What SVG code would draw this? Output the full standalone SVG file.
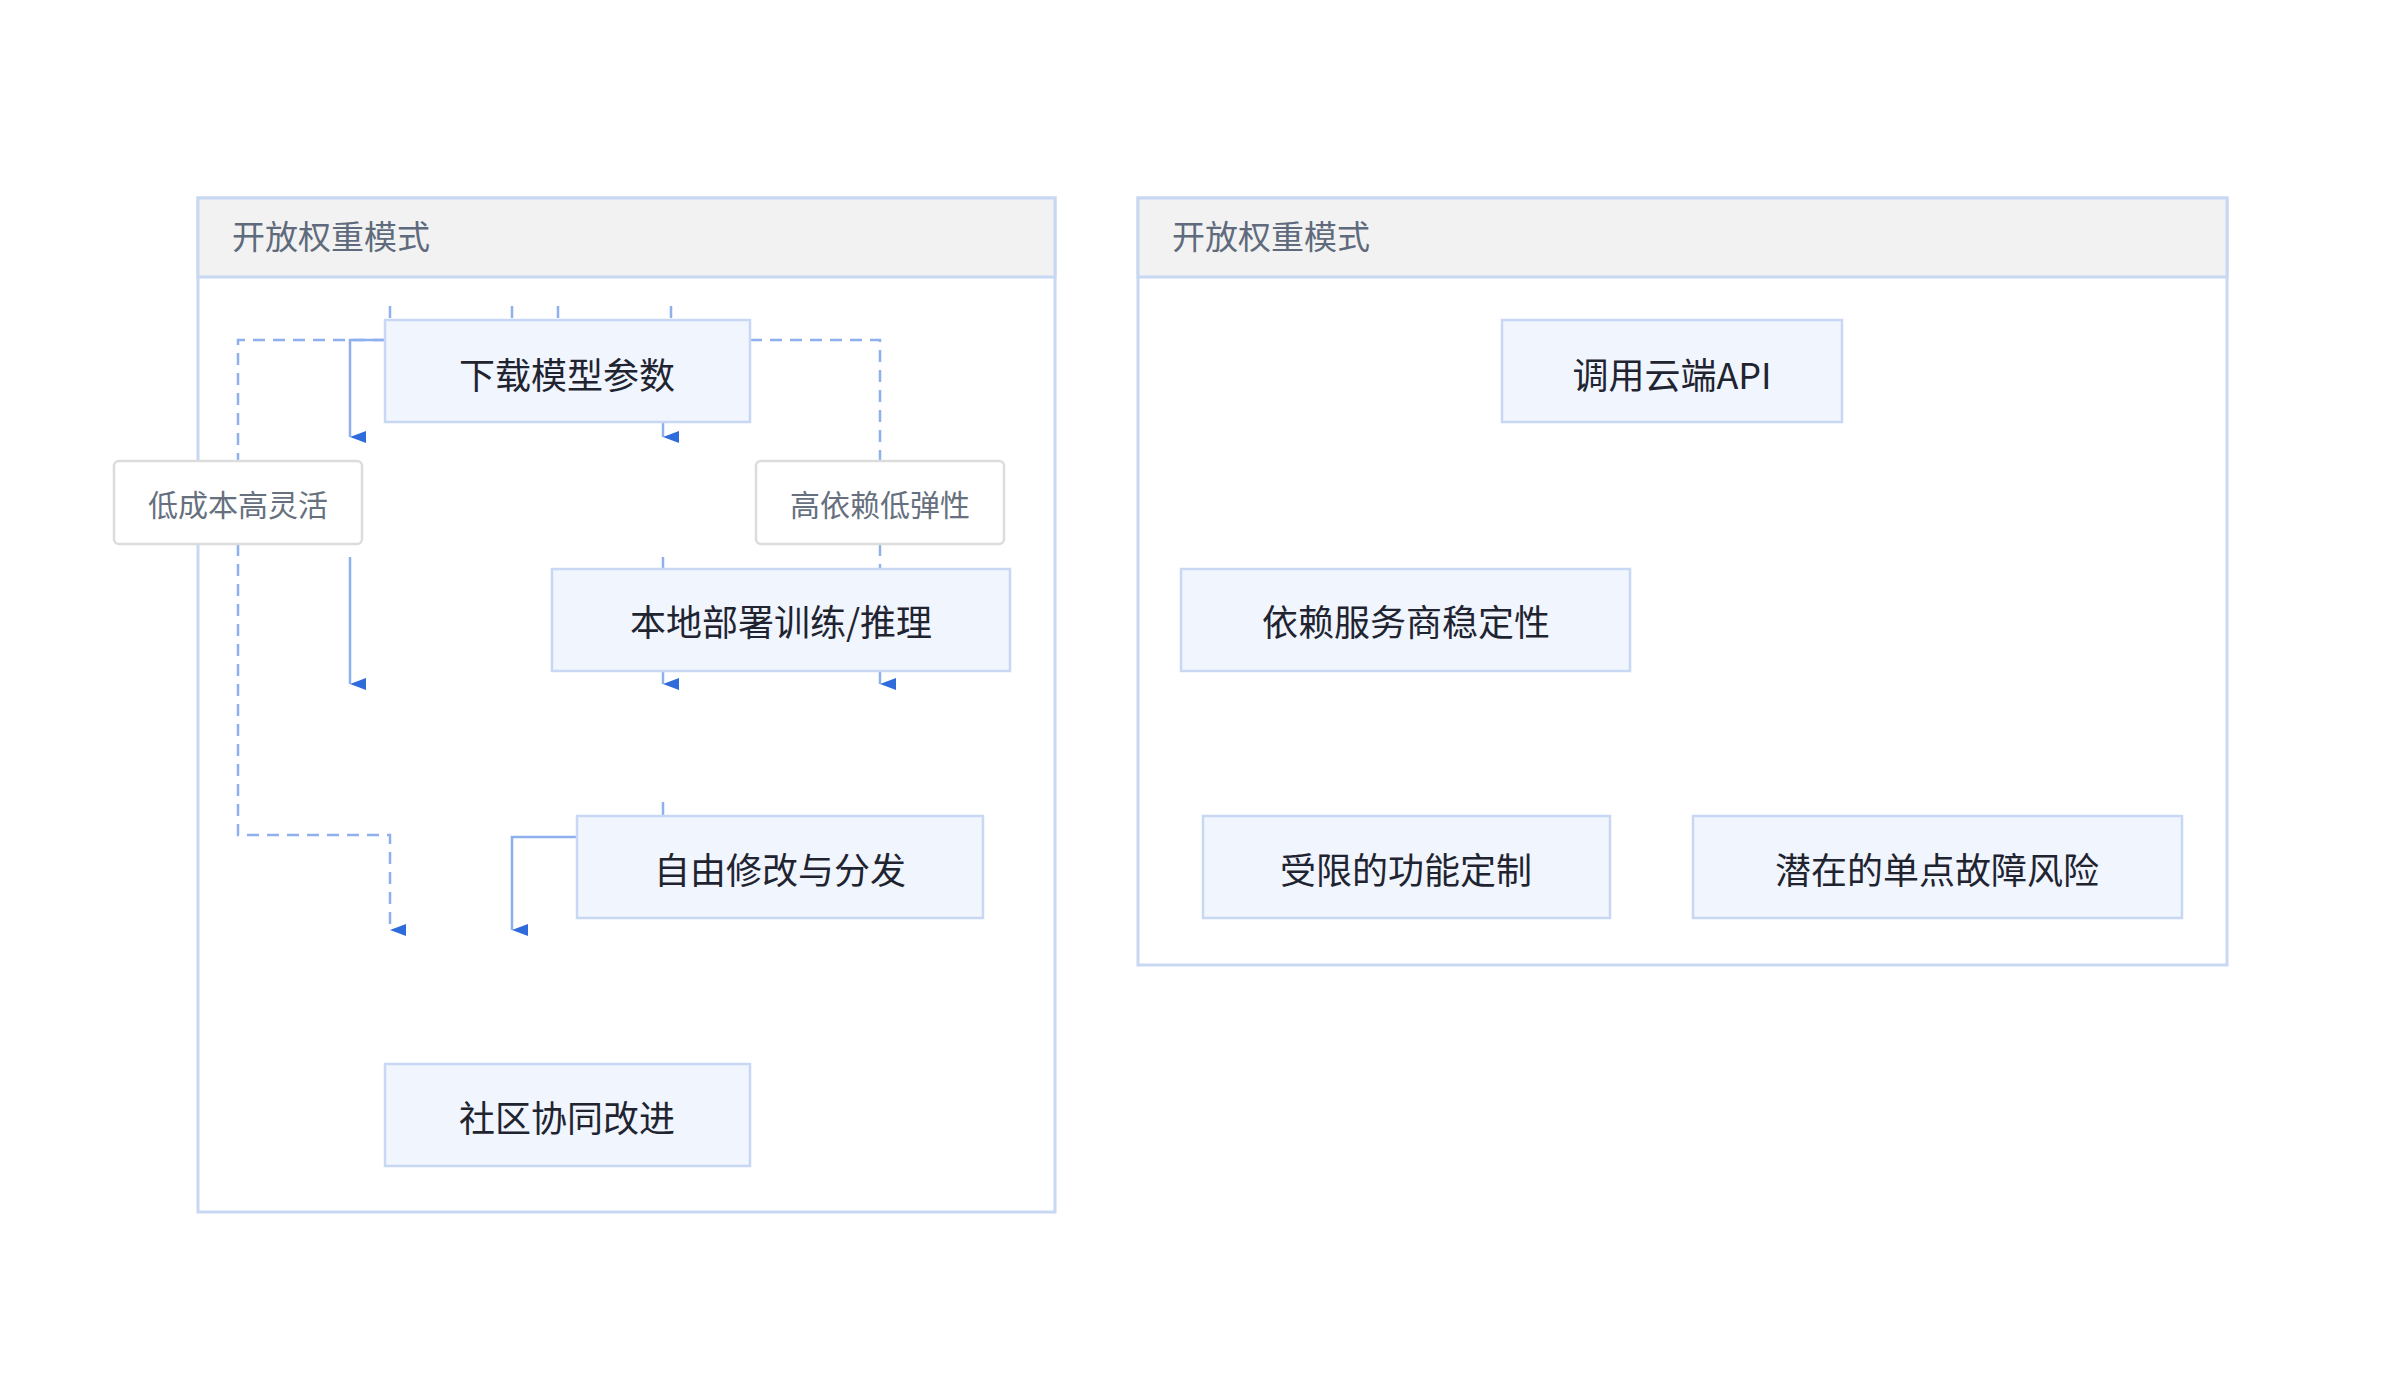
<svg xmlns="http://www.w3.org/2000/svg" width="2400" height="1396" viewBox="0 0 2400 1396">
<style>
.panel{fill:#fff;stroke:#c8d7f2;stroke-width:3}
.hdr{fill:#f2f2f2;stroke:#c8d7f2;stroke-width:3}
.ht{font-family:"Noto Sans CJK SC","Noto Sans",sans-serif;font-size:33px;fill:#5f6b7c}
.nd{fill:#f0f5fe;stroke:#c8d8f4;stroke-width:2.5}
.nt{font-family:"Noto Sans CJK SC","Noto Sans",sans-serif;font-size:36px;fill:#1f2430;text-anchor:middle;dominant-baseline:central}
.lb{fill:#fff;stroke:#dcdcdc;stroke-width:2.5}
.lt{font-family:"Noto Sans CJK SC","Noto Sans",sans-serif;font-size:30px;fill:#66707e;text-anchor:middle;dominant-baseline:central}
.c{fill:none;stroke:#8fb0ef;stroke-width:2.5}
.d{stroke-dasharray:12 8}
</style>
<defs><marker id="a" markerWidth="12" markerHeight="16" refX="6" refY="16" orient="auto" markerUnits="userSpaceOnUse" viewBox="0 0 12 16"><path d="M0,0L12,0L6,16Z" fill="#2f6bdb" transform="rotate(0)"/></marker></defs>
<g id="panel-left"><rect class="panel" x="198" y="198" width="857" height="1014"/><rect class="hdr" x="198" y="198" width="857" height="79"/><text class="ht" x="232" y="249">开放权重模式</text></g>
<g id="panel-right"><rect class="panel" x="1138" y="198" width="1089" height="767"/><rect class="hdr" x="1138" y="198" width="1089" height="79"/><text class="ht" x="1172" y="249">开放权重模式</text></g>
<g id="connectors">
<path class="c d" d="M385,340H238V461M238,544V835H390V930" marker-end="url(#a)"/>
<path class="c" d="M385,340H350V437" marker-end="url(#a)"/>
<path class="c" d="M350,557V684" marker-end="url(#a)"/>
<path class="c" d="M663,422V437" marker-end="url(#a)"/>
<path class="c" d="M663,557V569"/>
<path class="c" d="M663,671V684" marker-end="url(#a)"/>
<path class="c" d="M880,671V684" marker-end="url(#a)"/>
<path class="c d" d="M750,340H880V461M880,544V569"/>
<path class="c" d="M663,802V816"/>
<path class="c" d="M577,837H512V930" marker-end="url(#a)"/>
<path class="c d" d="M390,306V318"/>
<path class="c" d="M512,306V318M558,306V318M671,306V318"/>
</g>
<g id="n1"><rect class="nd" x="385" y="320" width="365" height="102"/><text class="nt" x="567" y="373">下载模型参数</text></g>
<g id="n2"><rect class="nd" x="552" y="569" width="458" height="102"/><text class="nt" x="781" y="620">本地部署训练/推理</text></g>
<g id="n3"><rect class="nd" x="577" y="816" width="406" height="102"/><text class="nt" x="780" y="868">自由修改与分发</text></g>
<g id="n4"><rect class="nd" x="385" y="1064" width="365" height="102"/><text class="nt" x="567" y="1116">社区协同改进</text></g>
<g id="l1"><rect class="lb" x="114" y="461" width="248" height="83" rx="5"/><text class="lt" x="238" y="503">低成本高灵活</text></g>
<g id="l2"><rect class="lb" x="756" y="461" width="248" height="83" rx="5"/><text class="lt" x="880" y="503">高依赖低弹性</text></g>
<g id="r1"><rect class="nd" x="1502" y="320" width="340" height="102"/><text class="nt" x="1672" y="373">调用云端API</text></g>
<g id="r2"><rect class="nd" x="1181" y="569" width="449" height="102"/><text class="nt" x="1406" y="620">依赖服务商稳定性</text></g>
<g id="r3"><rect class="nd" x="1203" y="816" width="407" height="102"/><text class="nt" x="1406" y="868">受限的功能定制</text></g>
<g id="r4"><rect class="nd" x="1693" y="816" width="489" height="102"/><text class="nt" x="1937" y="868">潜在的单点故障风险</text></g>
</svg>
